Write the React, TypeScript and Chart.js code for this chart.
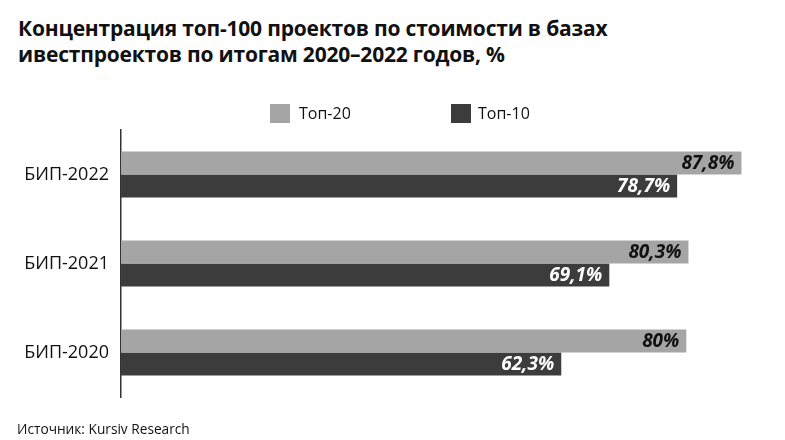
import React, { useEffect, useRef } from "react";
import { Chart, registerables } from "chart.js";

Chart.register(...registerables);

const categories = ["БИП-2022", "БИП-2021", "БИП-2020"];
const top20Values = [87.8, 80.3, 80];
const top10Values = [78.7, 69.1, 62.3];
const seriesNames = ["Топ-20", "Топ-10"];
const titleLines = [
  "Концентрация топ-100 проектов по стоимости в базах",
  "ивестпроектов по итогам 2020–2022 годов, %",
];
const sourceText = "Источник: Kursiv Research";

const LIGHT = "#a5a5a5";
const DARK = "#3c3c3c";
const FONT = "'Open Sans', 'Noto Sans', sans-serif";

const fmt = (v: number) => String(v).replace(".", ",") + "%";

const labelPlugin = {
  id: "barLabels",
  afterDatasetsDraw(chart: any) {
    const ctx = chart.ctx;
    ctx.save();
    ctx.font = `italic bold 19px ${FONT}`;
    ctx.textAlign = "right";
    ctx.textBaseline = "middle";
    chart.data.datasets.forEach((ds: any, di: number) => {
      const meta = chart.getDatasetMeta(di);
      meta.data.forEach((bar: any, i: number) => {
        ctx.fillStyle = di === 0 ? "#111" : "#fff";
        ctx.fillText(fmt(ds.data[i]), bar.x - 7, bar.y + 1);
      });
    });
    ctx.restore();
  },
};

export default function App() {
  const ref = useRef<HTMLCanvasElement>(null);
  useEffect(() => {
    const chart = new Chart(ref.current!, {
      type: "bar",
      data: {
        labels: categories,
        datasets: [
          { label: seriesNames[0], data: top20Values, backgroundColor: LIGHT },
          { label: seriesNames[1], data: top10Values, backgroundColor: DARK },
        ],
      },
      options: {
        indexAxis: "y",
        animation: false,
        responsive: false,
        devicePixelRatio: 1,
        layout: { padding: { top: 130, bottom: 43, right: 28, left: 0 } },
        plugins: { legend: { display: false }, tooltip: { enabled: false } },
        datasets: { bar: { categoryPercentage: 0.517, barPercentage: 1 } } as any,
        scales: {
          x: { display: false, min: 0, max: 90 },
          y: {
            afterFit: (s: any) => {
              s.width = 121;
            },
            grid: { display: false, drawTicks: false },
            border: { display: true, color: "#333", width: 1.5 },
            ticks: {
              padding: 12,
              color: "#111",
              font: { family: FONT, size: 18 },
            },
          },
        },
      },
      plugins: [labelPlugin],
    });
    return () => chart.destroy();
  }, []);

  return (
    <div style={{ position: "absolute", left: 0, top: 0, width: 785, height: 440, background: "#fff", fontFamily: FONT, color: "#111" }}>
      <div style={{ position: "absolute", left: 18, top: 15, fontWeight: 700, fontSize: 21, lineHeight: "26px", letterSpacing: -0.2, whiteSpace: "nowrap" }}>
        {titleLines.map((t, i) => (
          <div key={i}>{t}</div>
        ))}
      </div>
      <canvas ref={ref} width={785} height={440} style={{ position: "absolute", left: 0, top: 0 }} />
      <div style={{ position: "absolute", left: 270, top: 102, display: "flex", alignItems: "center", fontSize: 16 }}>
        <span style={{ width: 20, height: 19, background: LIGHT, display: "inline-block" }} />
        <span style={{ marginLeft: 9 }}>{seriesNames[0]}</span>
      </div>
      <div style={{ position: "absolute", left: 451, top: 102, display: "flex", alignItems: "center", fontSize: 16 }}>
        <span style={{ width: 20, height: 19, background: DARK, display: "inline-block" }} />
        <span style={{ marginLeft: 7 }}>{seriesNames[1]}</span>
      </div>
      <div style={{ position: "absolute", left: 17, top: 419, fontSize: 13.7 }}>{sourceText}</div>
    </div>
  );
}
